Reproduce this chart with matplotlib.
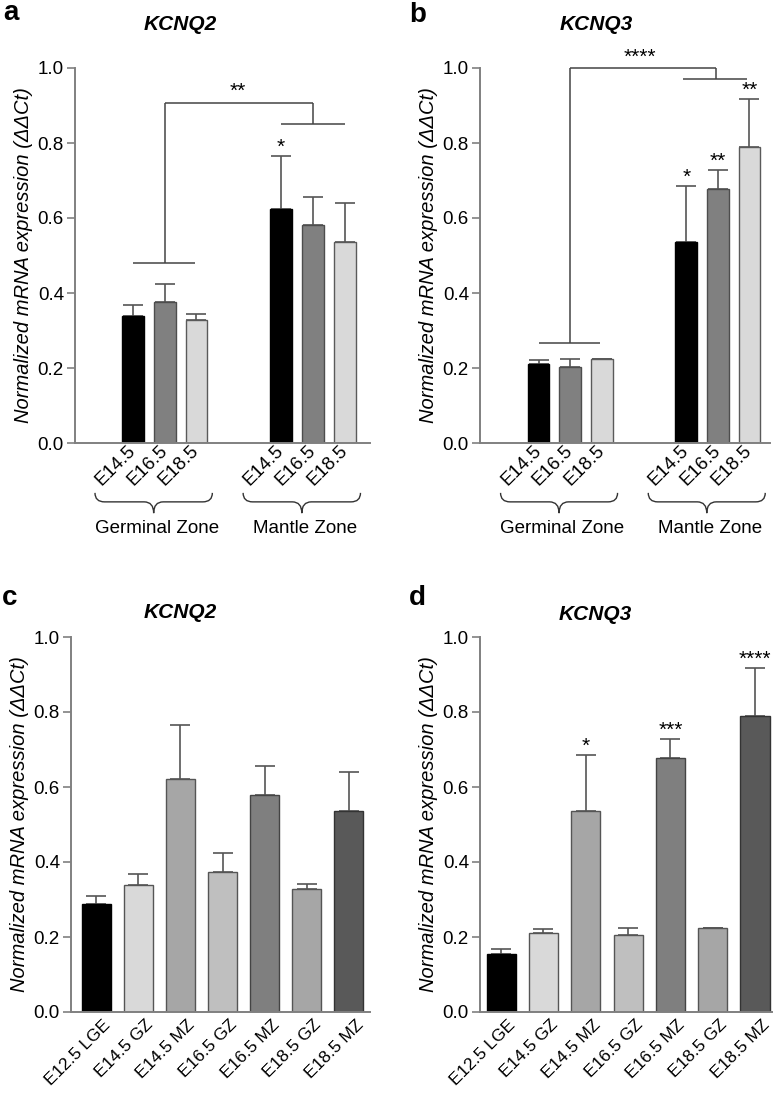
import matplotlib
matplotlib.use("Agg")
import matplotlib.pyplot as plt
from matplotlib.path import Path
from matplotlib.patches import PathPatch
import matplotlib.transforms as mtransforms

plt.rcParams['font.family'] = ['Liberation Sans', 'DejaVu Sans']

# ---------------- data ----------------
stage_labels = ["E14.5", "E16.5", "E18.5"]
zone_labels = ["Germinal Zone", "Mantle Zone"]

kcnq2_gz = [0.340, 0.375, 0.328]
kcnq2_gz_err = [0.028, 0.048, 0.015]
kcnq2_mz = [0.623, 0.582, 0.537]
kcnq2_mz_err = [0.142, 0.075, 0.103]

kcnq3_gz = [0.210, 0.203, 0.224]
kcnq3_gz_err = [0.012, 0.022, 0.001]
kcnq3_mz = [0.535, 0.677, 0.789]
kcnq3_mz_err = [0.150, 0.051, 0.129]

stars_b_mz = ["*", "**", "**"]

time_labels = ["E12.5 LGE", "E14.5 GZ", "E14.5 MZ", "E16.5 GZ", "E16.5 MZ", "E18.5 GZ", "E18.5 MZ"]
kcnq2_all = [0.287, 0.340, 0.622, 0.373, 0.580, 0.327, 0.535]
kcnq2_all_err = [0.023, 0.027, 0.144, 0.050, 0.077, 0.015, 0.105]
kcnq3_all = [0.155, 0.210, 0.535, 0.205, 0.677, 0.224, 0.789]
kcnq3_all_err = [0.013, 0.012, 0.150, 0.020, 0.051, 0.001, 0.129]
stars_d = ["", "", "*", "", "***", "", "****"]

# ---------------- styles ----------------
W, H = 777, 1095
fig = plt.figure(figsize=(W / 100, H / 100), dpi=100)

def rect(x0, x1, ytop, ybot):
    return [x0 / W, 1 - ybot / H, (x1 - x0) / W, (ybot - ytop) / H]

group_cols = ["#000000", "#808080", "#d9d9d9"]
group_edges = ["#000000", "#4d4d4d", "#5a5a5a"]
all_cols = ["#000000", "#d9d9d9", "#a6a6a6", "#bfbfbf", "#7f7f7f", "#a6a6a6", "#595959"]
all_edges = ["#000000", "#555555", "#555555", "#555555", "#444444", "#555555", "#333333"]
spine_col = "#808080"
line_col = "#444444"
err_col = "#555555"
YLAB = "Normalized mRNA expression (ΔΔCt)"
FS = 13.5
STAR_FS = 15

def style_axes(ax, xlim):
    ax.set_xlim(*xlim)
    ax.set_ylim(0, 1.0)
    ax.set_yticks([0.0, 0.2, 0.4, 0.6, 0.8, 1.0])
    ax.set_yticklabels(["0.0", "0.2", "0.4", "0.6", "0.8", "1.0"], fontsize=FS)
    for s in ["top", "right"]:
        ax.spines[s].set_visible(False)
    for s in ["left", "bottom"]:
        ax.spines[s].set_color(spine_col)
        ax.spines[s].set_linewidth(1.4)
    ax.tick_params(axis='y', direction='out', length=6, width=1.2, color=spine_col, pad=2)
    ax.tick_params(axis='x', length=0, pad=4)
    ax.set_ylabel(YLAB, fontsize=14.5, style='italic', labelpad=3)

def draw_bars(ax, xs, vals, errs, cols, edges, width):
    for x, v, e, c, ec in zip(xs, vals, errs, cols, edges):
        ax.errorbar(x, v, yerr=[[0], [e]], fmt='none', ecolor=err_col, elinewidth=1.2,
                    capsize=7, capthick=1.2, zorder=1)
        ax.bar(x, v, width=width, color=c, edgecolor=ec, linewidth=1.0, zorder=2)

def brace(ax, left, right, center, y0, y1, y2, d=0.3):
    tr = mtransforms.blended_transform_factory(ax.transData, ax.transAxes)
    verts = [(left, y0), (left, y1), (left + d, y1),
             (center - d, y1), (center, y1), (center, y2),
             (center, y1), (center + d, y1),
             (right - d, y1), (right, y1), (right, y0)]
    codes = [Path.MOVETO, Path.CURVE3, Path.CURVE3,
             Path.LINETO, Path.CURVE3, Path.CURVE3,
             Path.CURVE3, Path.CURVE3,
             Path.LINETO, Path.CURVE3, Path.CURVE3]
    p = PathPatch(Path(verts, codes), fill=False, edgecolor="#333333", lw=1.0,
                  transform=tr, clip_on=False)
    ax.add_patch(p)

def hline(ax, x0, x1, y):
    ax.plot([x0, x1], [y, y], color=line_col, lw=1.1, clip_on=False, solid_capstyle='butt')

def vline(ax, x, y0, y1):
    ax.plot([x, x], [y0, y1], color=line_col, lw=1.1, clip_on=False, solid_capstyle='butt')

def star(ax, x, y, s):
    ax.text(x, y, s, ha='center', va='bottom', fontsize=STAR_FS)

# ---------------- panels a & b ----------------
pos_gz = [0.0, 1.0, 2.0]
pos_mz = [4.67, 5.67, 6.67]
bw = 0.69

def zone_panel(ax, gz, gz_err, mz, mz_err, xlim):
    draw_bars(ax, pos_gz, gz, gz_err, group_cols, group_edges, bw)
    draw_bars(ax, pos_mz, mz, mz_err, group_cols, group_edges, bw)
    style_axes(ax, xlim)
    ax.set_xticks(pos_gz + pos_mz)
    ax.set_xticklabels(stage_labels * 2, rotation=45, ha='right', va='center',
                       rotation_mode='anchor', fontsize=FS)
    tr = mtransforms.blended_transform_factory(ax.transData, ax.transAxes)
    for grp_pos, name in zip([pos_gz, pos_mz], zone_labels):
        c = grp_pos[1] - 0.35
        brace(ax, c - 1.85, c + 1.85, c, -0.133, -0.157, -0.187)
        ax.text(c + 0.1, -0.227, name, transform=tr, ha='center', va='center', fontsize=FS)

ax_a = fig.add_axes(rect(75, 370, 68, 443))
zone_panel(ax_a, kcnq2_gz, kcnq2_gz_err, kcnq2_mz, kcnq2_mz_err, (-1.83, 7.47))
hline(ax_a, 0.0, 1.95, 0.48)
vline(ax_a, 1.0, 0.48, 0.907)
hline(ax_a, 1.0, 5.67, 0.907)
vline(ax_a, 5.67, 0.907, 0.85)
hline(ax_a, 4.67, 6.69, 0.85)
star(ax_a, 3.3, 0.912, "**")
star(ax_a, pos_mz[0], kcnq2_mz[0] + kcnq2_mz_err[0] - 0.002, "*")

ax_b = fig.add_axes(rect(480, 770, 68, 443))
zone_panel(ax_b, kcnq3_gz, kcnq3_gz_err, kcnq3_mz, kcnq3_mz_err, (-1.85, 7.32))
hline(ax_b, 0.0, 1.95, 0.267)
vline(ax_b, 1.0, 0.267, 1.0)
hline(ax_b, 1.0, 5.6, 1.0)
vline(ax_b, 5.6, 1.0, 0.971)
hline(ax_b, 4.56, 6.58, 0.971)
star(ax_b, 3.2, 1.003, "****")
for x, v, e, s in zip(pos_mz, kcnq3_mz, kcnq3_mz_err, stars_b_mz):
    star(ax_b, x, v + e - 0.002, s)

# ---------------- panels c & d ----------------
pos_all = list(range(len(time_labels)))
bw2 = 0.69

def time_panel(ax, vals, errs, xlim):
    draw_bars(ax, pos_all, vals, errs, all_cols, all_edges, bw2)
    style_axes(ax, xlim)
    ax.set_xticks(pos_all)
    ax.set_xticklabels(time_labels, rotation=45, ha='right', va='center',
                       rotation_mode='anchor', fontsize=12.5)
    off = mtransforms.ScaledTranslation(12 / 100, -5 / 100, fig.dpi_scale_trans)
    for lab in ax.get_xticklabels():
        lab.set_transform(lab.get_transform() + off)

ax_c = fig.add_axes(rect(71, 370, 637, 1012))
time_panel(ax_c, kcnq2_all, kcnq2_all_err, (-0.6, 6.5))

ax_d = fig.add_axes(rect(480, 772, 637, 1012))
time_panel(ax_d, kcnq3_all, kcnq3_all_err, (-0.5, 6.4))
for x, v, e, s in zip(pos_all, kcnq3_all, kcnq3_all_err, stars_d):
    if s:
        star(ax_d, x, v + e - 0.002, s)

# ---------------- titles & panel letters ----------------
def ftext(x, y, s, **kw):
    fig.text(x / W, 1 - y / H, s, **kw)

for (x, y), t in zip([(180, 25), (596, 25), (180, 613), (595, 615)],
                     ["KCNQ2", "KCNQ3", "KCNQ2", "KCNQ3"]):
    ftext(x, y, t, ha='center', va='center', fontsize=15, fontweight='bold', style='italic')

for (x, y), t in zip([(3, 20), (409, 22), (2, 605), (409, 605)], ["a", "b", "c", "d"]):
    ftext(x, y, t, ha='left', va='baseline', fontsize=20, fontweight='bold')

fig.savefig("out.png", dpi=100)
